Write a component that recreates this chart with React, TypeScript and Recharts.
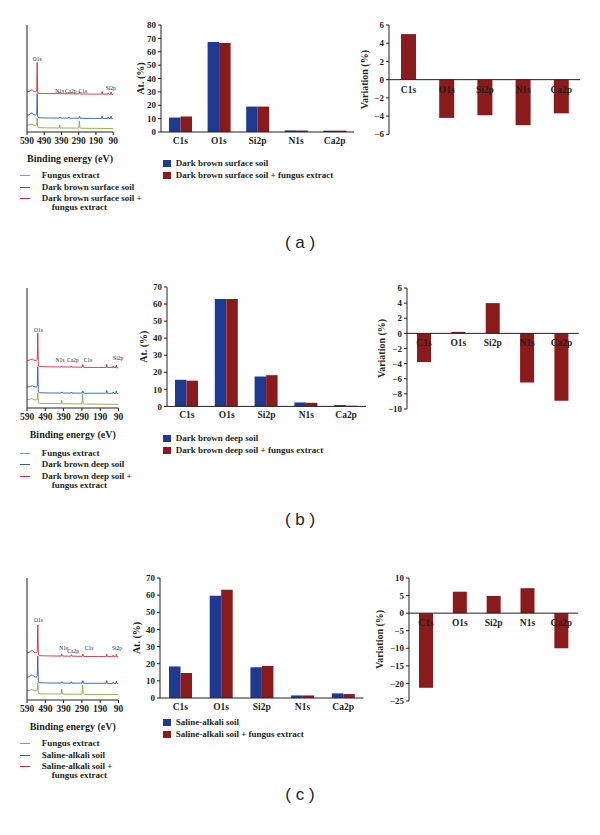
import React from 'react';
import { BarChart, Bar, LineChart, Line, XAxis, YAxis, ReferenceLine, ReferenceDot, LabelList } from 'recharts';

const SERIF = '"Liberation Serif", "Times New Roman", serif';
const INK = '#231f20';
const BAR_BLUE = '#1f3a93';
const BAR_RED = '#8b1a1a';
const SP_GREEN = '#86ad45';
const SP_BLUE = '#2f5db2';
const SP_RED = '#c4333b';

const elements = ['C1s', 'O1s', 'Si2p', 'N1s', 'Ca2p'];
const energyTicks = [590, 490, 390, 290, 190, 90];
const atTicks80 = [0, 10, 20, 30, 40, 50, 60, 70, 80];
const atTicks70 = [0, 10, 20, 30, 40, 50, 60, 70];
const varTicksA = [-6, -4, -2, 0, 2, 4, 6];
const varTicksB = [-10, -8, -6, -4, -2, 0, 2, 4, 6];
const varTicksC = [-25, -20, -15, -10, -5, 0, 5, 10];

// (a) dark brown surface soil
const surfaceSoil = [10.8, 67.3, 19.0, 1.2, 1.0];
const surfaceSoilFungus = [11.6, 66.5, 19.0, 1.1, 1.0];
const surfaceVariation = [5.0, -4.2, -3.9, -5.0, -3.7];

// (b) dark brown deep soil
const deepSoil = [15.6, 63.0, 17.5, 2.3, 0.8];
const deepSoilFungus = [15.1, 63.0, 18.3, 2.1, 0.4];
const deepVariation = [-3.8, 0.2, 4.0, -6.5, -8.9];

// (c) saline-alkali soil
const salineSoil = [18.4, 59.7, 17.9, 1.5, 2.7];
const salineSoilFungus = [14.6, 63.2, 18.7, 1.5, 2.3];
const salineVariation = [-21.2, 6.1, 4.9, 7.1, -10.0];

// survey spectra: [binding energy (eV), offset intensity (a.u.)]
const redA = [[590, 37.6], [578, 37.8], [568, 39.0], [560, 39.4], [552, 38.0], [540, 37.4], [534, 38.5], [531, 65.0], [528, 36.8], [520, 36.1], [460, 35.9], [403, 35.8], [400, 37.0], [397, 35.8], [350, 35.7], [347, 36.8], [344, 35.7], [289, 35.6], [285, 37.6], [281, 35.5], [200, 35.4], [157, 35.4], [154, 37.8], [151, 35.4], [122, 35.3], [119, 36.6], [116, 35.3], [105, 35.3], [102, 37.4], [99, 35.2], [90, 35.2]];
const blueA = [[590, 15.8], [578, 16.0], [568, 17.4], [560, 17.8], [552, 16.3], [540, 15.7], [534, 16.8], [531, 36.0], [528, 13.9], [520, 13.3], [460, 13.1], [403, 13.0], [400, 14.0], [397, 13.0], [350, 13.0], [347, 14.0], [344, 12.9], [289, 12.9], [285, 14.8], [281, 12.8], [200, 12.7], [157, 12.7], [154, 15.0], [151, 12.7], [122, 12.6], [119, 13.9], [116, 12.6], [105, 12.6], [102, 14.8], [99, 12.5], [90, 12.5]];
const greenA = [[590, 6.6], [578, 6.6], [568, 7.4], [560, 7.2], [550, 6.4], [540, 6.1], [534, 6.8], [531, 13.0], [528, 4.6], [520, 4.0], [460, 3.8], [403, 3.8], [400, 6.4], [397, 3.7], [350, 3.7], [290, 3.6], [286, 10.3], [283, 4.4], [278, 3.5], [200, 3.4], [90, 3.2]];

const redB = [[590, 39.6], [578, 39.8], [568, 40.6], [560, 40.8], [552, 39.9], [540, 39.5], [534, 40.5], [531, 62.5], [528, 35.0], [520, 34.5], [460, 34.3], [403, 34.2], [400, 35.2], [397, 34.2], [350, 34.2], [347, 35.0], [344, 34.1], [289, 34.0], [285, 36.2], [281, 33.9], [200, 33.8], [157, 33.8], [154, 36.4], [151, 33.8], [122, 33.7], [119, 35.0], [116, 33.7], [105, 33.6], [102, 35.8], [99, 33.5], [90, 33.5]];
const blueB = [[590, 17.4], [578, 17.6], [568, 18.3], [560, 18.5], [552, 17.8], [540, 17.4], [534, 18.2], [531, 34.5], [528, 13.2], [520, 12.7], [460, 12.5], [403, 12.5], [400, 13.4], [397, 12.5], [350, 12.4], [347, 13.3], [344, 12.4], [289, 12.4], [285, 14.2], [281, 12.3], [200, 12.3], [157, 12.3], [154, 14.6], [151, 12.2], [122, 12.2], [119, 13.4], [116, 12.2], [105, 12.1], [102, 14.2], [99, 12.1], [90, 12.1]];
const greenB = [[590, 7.0], [578, 7.1], [568, 7.7], [560, 7.6], [550, 6.9], [540, 6.7], [534, 7.2], [531, 12.5], [528, 4.4], [520, 3.8], [460, 3.7], [403, 3.6], [400, 6.3], [397, 3.5], [350, 3.5], [290, 3.4], [286, 11.9], [283, 4.0], [278, 3.3], [200, 3.2], [90, 3.0]];

const redC = [[590, 38.8], [578, 39.0], [568, 40.2], [560, 40.6], [552, 39.2], [540, 38.7], [534, 39.6], [531, 61.5], [528, 36.8], [520, 36.3], [460, 36.1], [403, 36.0], [400, 37.8], [397, 36.0], [350, 35.9], [347, 37.2], [344, 35.9], [289, 35.8], [285, 37.6], [281, 35.7], [200, 35.6], [157, 35.6], [154, 37.6], [151, 35.6], [122, 35.5], [119, 36.8], [116, 35.5], [105, 35.4], [102, 37.4], [99, 35.4], [90, 35.4]];
const blueC = [[590, 18.8], [578, 19.0], [568, 20.2], [560, 20.5], [552, 19.2], [540, 18.7], [534, 19.5], [531, 36.0], [528, 14.6], [520, 14.1], [460, 13.9], [403, 13.9], [400, 15.0], [397, 13.9], [350, 13.8], [347, 14.9], [344, 13.8], [289, 13.8], [285, 15.8], [281, 13.7], [200, 13.7], [157, 13.7], [154, 15.9], [151, 13.6], [122, 13.6], [119, 14.8], [116, 13.6], [105, 13.5], [102, 15.6], [99, 13.5], [90, 13.5]];
const greenC = [[590, 7.6], [578, 7.7], [568, 8.5], [560, 8.4], [550, 7.6], [540, 7.4], [534, 8.0], [531, 14.0], [528, 5.5], [520, 5.0], [460, 4.9], [403, 4.9], [400, 9.0], [397, 4.8], [350, 4.8], [290, 4.7], [286, 12.3], [283, 5.2], [278, 4.6], [200, 4.5], [90, 4.4]];

// peak annotations: [label, eV, height]
const annotA: [string, number, number][] = [['O1s', 531, 67.8], ['N1s', 400, 38.6], ['Ca2p', 336, 38.6], ['C1s', 266, 38.6], ['Si2p', 104, 41.0]];
const annotB: [string, number, number][] = [['O1s', 528, 65.3], ['N1s', 410, 39.7], ['Ca2p', 339, 39.7], ['C1s', 257, 39.7], ['Si2p', 92, 41.9]];
const annotC: [string, number, number][] = [['O1s', 528, 65.6], ['N1s', 389, 42.6], ['Ca2p', 338, 40.2], ['C1s', 251, 42.6], ['Si2p', 98, 42.6]];

const toPts = (arr: number[][]) => arr.map(([e, v]) => ({ e, v }));

const tickFont = { fill: INK, fontFamily: SERIF, fontWeight: 'bold' as const };

const frame = (l: number, t: number, r: number, b: number, yW: number, xH: number) => {
    const pad = 6;
    return {
        style: { position: 'absolute' as const, left: l - yW - pad, top: t - pad, fontFamily: SERIF },
        width: r - l + yW + pad * 2,
        height: b - t + xH + pad * 2,
        margin: { top: pad, right: pad, bottom: pad, left: pad },
    };
};

const txt = (extra: React.CSSProperties = {}): React.CSSProperties => ({
    position: 'absolute', fontFamily: SERIF, fontSize: 9, fontWeight: 'bold', color: INK, whiteSpace: 'nowrap', lineHeight: '10px', ...extra,
});

const SpectrumPanel = ({ box, red, blue, green, annot, labels, legendTop }: any) => {
    const [l, t, r, b] = box;
    const f = frame(l, t, r, b, 10, 30);
    const rows = [[SP_GREEN, labels[0]], [SP_BLUE, labels[1]], [SP_RED, labels[2]]];
    return (
        <>
            <div style={f.style}>
                <LineChart width={f.width} height={f.height} margin={f.margin}>
                    <XAxis
                        dataKey="e" type="number" domain={[90, 590]} reversed ticks={energyTicks} interval={0}
                        allowDataOverflow height={30} tickSize={3} tickMargin={2}
                        axisLine={{ stroke: INK }} tickLine={{ stroke: INK }}
                        tick={{ ...tickFont, fontSize: 9.5 }}
                        label={{ value: 'Binding energy (eV)', position: 'insideBottom', offset: 0, fill: INK, fontSize: 10, fontFamily: SERIF, fontWeight: 'bold' }}
                    />
                    <YAxis type="number" domain={[0, 100]} width={10} tick={false} tickLine={false} axisLine={{ stroke: INK }} />
                    <Line data={toPts(green)} dataKey="v" type="linear" stroke={SP_GREEN} strokeWidth={0.9} dot={false} isAnimationActive={false} />
                    <Line data={toPts(blue)} dataKey="v" type="linear" stroke={SP_BLUE} strokeWidth={0.9} dot={false} isAnimationActive={false} />
                    <Line data={toPts(red)} dataKey="v" type="linear" stroke={SP_RED} strokeWidth={0.9} dot={false} isAnimationActive={false} />
                    {annot.map(([name, e, v]: any) => (
                        <ReferenceDot key={name} x={e} y={v} r={0} fill="none" stroke="none" ifOverflow="visible"
                            label={{ value: name, position: 'center', fontSize: 5.5, fill: INK, fontFamily: SERIF }} />
                    ))}
                </LineChart>
            </div>
            {rows.map(([c, lab], i) => (
                <React.Fragment key={i}>
                    <div style={{ position: 'absolute', left: 20, top: legendTop + i * 11.5, width: 10, height: 1.2, background: c }} />
                    <div style={txt({ left: 41.7, top: legendTop + i * 11.5 - 5 })}>
                        {lab.split('\n').map((s: string, k: number) => (
                            <div key={k} style={{ paddingLeft: k ? 10 : 0, lineHeight: k ? '8px' : '10px' }}>{s}</div>
                        ))}
                    </div>
                </React.Fragment>
            ))}
        </>
    );
};

const AtomPanel = ({ box, max, ticks, soil, fungus, names, legendTop, labelOff }: any) => {
    const [l, t, r, b] = box;
    const f = frame(l, t, r, b, 30, 18);
    const data = elements.map((el, i) => ({ el, soil: soil[i], fungus: fungus[i] }));
    return (
        <>
            <div style={f.style}>
                <BarChart width={f.width} height={f.height} data={data} margin={f.margin} barGap={0} barSize={11.5}>
                    <XAxis xAxisId="edge" type="number" domain={[0, 5]} ticks={[0, 1, 2, 3, 4, 5]} tick={false} height={1}
                        axisLine={false} tickLine={{ stroke: INK }} tickSize={3} />
                    <XAxis xAxisId="cat" dataKey="el" height={17} interval={0} tickLine={false} tickSize={3} tickMargin={2}
                        axisLine={{ stroke: INK }} tick={{ ...tickFont, fontSize: 9.5 }} />
                    <YAxis type="number" domain={[0, max]} ticks={ticks} interval={0} width={30} tickSize={3} tickMargin={2}
                        axisLine={{ stroke: INK }} tickLine={{ stroke: INK }} tick={{ ...tickFont, fontSize: 9 }}
                        label={{ value: 'At. (%)', angle: -90, position: 'insideLeft', offset: labelOff, fill: INK, fontSize: 10, fontFamily: SERIF, fontWeight: 'bold', style: { textAnchor: 'middle' } }} />
                    <Bar xAxisId="cat" dataKey="soil" fill={BAR_BLUE} isAnimationActive={false} />
                    <Bar xAxisId="cat" dataKey="fungus" fill={BAR_RED} isAnimationActive={false} />
                </BarChart>
            </div>
            {[BAR_BLUE, BAR_RED].map((c, i) => (
                <React.Fragment key={i}>
                    <div style={{ position: 'absolute', left: 162.5, top: legendTop + i * 12 - 3.5, width: 8, height: 7, background: c }} />
                    <div style={txt({ left: 175.7, top: legendTop + i * 12 - 5.5 })}>{names[i]}</div>
                </React.Fragment>
            ))}
        </>
    );
};

const VarPanel = ({ box, domain, ticks, vals, barSize, labelOff }: any) => {
    const [l, t, r, b] = box;
    const f = frame(l, t, r, b, 30, 0);
    const data = elements.map((el, i) => ({ el, v: vals[i] }));
    const CatLabel = (p: any) => {
        const vb = p.viewBox || p;
        const x = Number(p.x ?? vb.x), y = Number(p.y ?? vb.y), w = Number(p.width ?? vb.width), h = Number(p.height ?? vb.height);
        const zero = h < 0 ? y + h : (vals[p.index] >= 0 ? y + h : y);
        return <text x={x + w / 2} y={zero + 13} textAnchor="middle" fontSize={9.5} fontFamily={SERIF} fontWeight="bold" fill={INK}>{elements[p.index]}</text>;
    };
    return (
        <div style={f.style}>
            <BarChart width={f.width} height={f.height} data={data} margin={f.margin}>
                <XAxis dataKey="el" hide />
                <YAxis type="number" domain={domain} ticks={ticks} interval={0} width={30} tickSize={3} tickMargin={2}
                    axisLine={{ stroke: INK }} tickLine={{ stroke: INK }} tick={{ ...tickFont, fontSize: 9 }}
                    tickFormatter={(v: number) => String(v).replace('-', '\u2212')}
                    label={{ value: 'Variation (%)', angle: -90, position: 'insideLeft', offset: labelOff, fill: INK, fontSize: 10, fontFamily: SERIF, fontWeight: 'bold', style: { textAnchor: 'middle' } }} />
                <Bar dataKey="v" fill={BAR_RED} barSize={barSize} isAnimationActive={false}>
                    <LabelList dataKey="el" content={CatLabel} />
                </Bar>
                <ReferenceLine y={0} stroke={INK} strokeWidth={1} />
            </BarChart>
        </div>
    );
};

const PanelTag = ({ top, text }: any) => (
    <div style={{ position: 'absolute', left: 0, width: 600, top, textAlign: 'center', fontFamily: '"Liberation Sans", Arial, sans-serif', fontSize: 17, color: INK, lineHeight: '20px' }}>
        {text}
    </div>
);

export default function App() {
    return (
        <div style={{ position: 'absolute', left: 0, top: 0, width: 600, height: 835, background: '#fff', overflow: 'hidden' }}>
            <SpectrumPanel box={[26.5, 25, 112.7, 132]} red={redA} blue={blueA} green={greenA} annot={annotA}
                labels={['Fungus extract', 'Dark brown surface soil', 'Dark brown surface soil +\nfungus extract']} legendTop={175} />
            <AtomPanel box={[161, 25, 354, 132]} max={80} ticks={atTicks80} soil={surfaceSoil} fungus={surfaceSoilFungus}
                names={['Dark brown surface soil', 'Dark brown surface soil + fungus extract']} legendTop={163} labelOff={9} />
            <VarPanel box={[389, 25, 580, 134.3]} domain={[-6, 6]} ticks={varTicksA} vals={surfaceVariation} barSize={15} labelOff={5} />
            <PanelTag top={233} text="( a )" />

            <SpectrumPanel box={[26.5, 288.3, 118, 408.3]} red={redB} blue={blueB} green={greenB} annot={annotB}
                labels={['Fungus extract', 'Dark brown deep soil', 'Dark brown deep soil +\nfungus extract']} legendTop={452.7} />
            <AtomPanel box={[167, 287.3, 366, 406.7]} max={70} ticks={atTicks70} soil={deepSoil} fungus={deepSoilFungus}
                names={['Dark brown deep soil', 'Dark brown deep soil + fungus extract']} legendTop={438} labelOff={6} />
            <VarPanel box={[406.7, 288.3, 578.5, 409.3]} domain={[-10, 6]} ticks={varTicksB} vals={deepVariation} barSize={14} labelOff={4} />
            <PanelTag top={510} text="( b )" />

            <SpectrumPanel box={[26.5, 578, 118, 700]} red={redC} blue={blueC} green={greenC} annot={annotC}
                labels={['Fungus extract', 'Saline-alkali soil', 'Saline-alkali soil +\nfungus extract']} legendTop={743} />
            <AtomPanel box={[159.5, 578.3, 363, 698.3]} max={70} ticks={atTicks70} soil={salineSoil} fungus={salineSoilFungus}
                names={['Saline-alkali soil', 'Saline-alkali soil + fungus extract']} legendTop={722} labelOff={6.5} />
            <VarPanel box={[409.3, 577.7, 578.5, 700.7]} domain={[-25, 10]} ticks={varTicksC} vals={salineVariation} barSize={14} labelOff={0} />
            <PanelTag top={785} text="( c )" />
        </div>
    );
}
